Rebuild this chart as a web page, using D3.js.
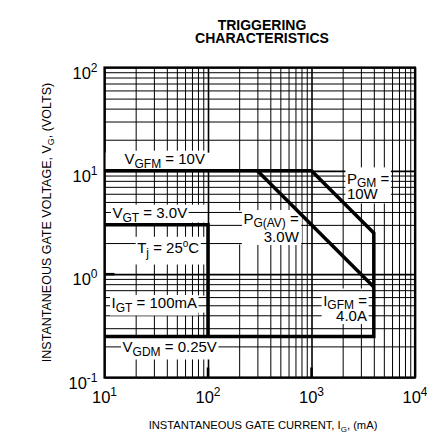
<!DOCTYPE html>
<html>
<head>
<meta charset="utf-8">
<script src="https://cdn.jsdelivr.net/npm/d3@7"></script>
<style>
  body { margin: 0; background: #fff; }
  svg { font-family: "Liberation Sans", Arial, sans-serif; }
</style>
</head>
<body>
<script>
const width = 427, height = 434;

// decades on each axis and their exponents
const xDecades = [10, 100, 1000, 10000];
const xExponents = ["1", "2", "3", "4"];
const yDecades = [0.1, 1, 10, 100];
const yExponents = ["-1", "0", "1", "2"];

// limit lines, [current mA, voltage V]
const outerLimit = [[10, 10], [1000, 10], [4000, 2.5], [4000, 0.25], [10, 0.25]];
const avgPowerLimit = [[300, 10], [4000, 0.75]];
const triggerLimit = [[10, 3], [100, 3], [100, 0.25]];

// label texts: segments are [text, "sub" | "sup" | undefined]
const labelLines = [
  [[["V"], ["GFM", "sub"], [" = 10V"]]],
  [[["V"], ["GT", "sub"], [" = 3.0V"]]],
  [[["T"], ["j", "sub"], [" = 25"], ["o", "sup"], ["C"]]],
  [[["I"], ["GT", "sub"], [" = 100mA"]]],
  [[["V"], ["GDM", "sub"], [" = 0.25V"]]],
  [[["P"], ["G(AV)", "sub"], [" ="]], [["3.0W"]]],
  [[["P"], ["GM", "sub"], [" ="]], [["10W"]]],
  [[["I"], ["GFM", "sub"], [" ="]], [["4.0A"]]]
];
// where each label sits (data units) and the area where the grid is cleared
const labelAt = [[15.6, 11.6], [11.95, 3.46], [41.2, 1.585], [11.7, 0.4655],
                 [14.95, 0.1746], [754, 3.09], [2198, 7.54], [3432, 0.497]];
const labelAnchor = ["start", "start", "middle", "start", "start", "end", "start", "end"];
const labelGap = [0, 0, 0, 0, 0, 18, 15, 15];
const labelClear = [
  [[10, 195], [10, 15]],
  [[11.2, 95], [3.16, 4.7]],
  [[19.5, 95], [1.24, 2.3]],
  [[11.2, 95], [0.425, 0.62]],
  [[10.5, 130], [0.153, 0.25]],
  [[190, 806], [1.94, 4.13]],
  [[2100, 6000], [4.83, 10.8]],
  [[1204, 3670], [0.333, 0.726]]
];

const x = d3.scaleLog().domain([10, 10000]).range([104.5, 415]);
const y = d3.scaleLog().domain([0.1, 100]).range([377.5, 67.5]);
const [x0, x1] = x.range(), [y0, y1] = y.range();

const isDecade = v => Math.abs(Math.log10(v) - Math.round(Math.log10(v))) < 1e-9;

const svg = d3.select("body").append("svg")
    .attr("width", width)
    .attr("height", height);

// vertical grid
const gridV = svg.append("g")
    .attr("transform", `translate(0,${y0})`)
    .call(d3.axisBottom(x).tickValues(x.ticks()).tickSize(y1 - y0).tickFormat(""));
gridV.select(".domain").remove();
gridV.selectAll(".tick line").attr("stroke-width", d => isDecade(d) ? 1.6 : 1);

const gMask = svg.append("g");

// horizontal grid
const gridH = svg.append("g")
    .attr("transform", `translate(${x0},0)`)
    .call(d3.axisLeft(y).tickValues(y.ticks()).tickSize(x0 - x1).tickFormat(""));
gridH.select(".domain").remove();
gridH.selectAll(".tick line").attr("stroke-width", d => isDecade(d) ? 1.6 : 1);

const gTextBg = svg.append("g");
const gLimits = svg.append("g");
const gText = svg.append("g").attr("font-size", 15).attr("fill", "#000");

// clear grid columns behind the labels
gMask.selectAll("rect")
  .data(labelClear)
  .join("rect")
    .attr("x", d => x(d[0][0]))
    .attr("y", d => y(d[1][1]))
    .attr("width", d => x(d[0][1]) - x(d[0][0]))
    .attr("height", d => y(d[1][0]) - y(d[1][1]))
    .attr("fill", "#fff");

// limit lines
const line = d3.line().x(d => x(d[0])).y(d => y(d[1]));
gLimits.selectAll("path")
  .data([outerLimit, avgPowerLimit, triggerLimit])
  .join("path")
    .attr("d", line)
    .attr("fill", "none")
    .attr("stroke", "#000")
    .attr("stroke-width", 3.5)
    .attr("stroke-linejoin", "miter");

function addSegments(t, segs, subSize, supSize, subDy, supDy) {
  let shift = 0;
  segs.forEach(s => {
    const target = s[1] === "sub" ? subDy : s[1] === "sup" ? supDy : 0;
    const ts = t.append("tspan").attr("dy", target - shift).text(s[0]);
    if (s[1] === "sub") ts.attr("font-size", subSize);
    if (s[1] === "sup") ts.attr("font-size", supSize);
    shift = target;
  });
}

// labels
labelLines.forEach((lines, i) => {
  const bb = [];
  lines.forEach((segs, li) => {
    const t = gText.append("text")
        .attr("x", x(labelAt[i][0]))
        .attr("y", y(labelAt[i][1]) + li * labelGap[i])
        .attr("text-anchor", labelAnchor[i]);
    addSegments(t, segs, 12, 10, 3.5, -6);
    bb.push(t.node().getBBox());
  });
  const l = d3.min(bb, b => b.x), r = d3.max(bb, b => b.x + b.width);
  const tp = d3.min(bb, b => b.y) + 2, bt = d3.max(bb, b => b.y + b.height) - 1;
  gTextBg.append("rect")
      .attr("x", l - 1.5).attr("y", tp - 1.5)
      .attr("width", r - l + 3).attr("height", bt - tp + 3)
      .attr("fill", "#fff");
});

// frame and decade ticks
svg.append("rect")
    .attr("x", x0).attr("y", y1)
    .attr("width", x1 - x0).attr("height", y0 - y1)
    .attr("fill", "none").attr("stroke", "#000").attr("stroke-width", 2.2);

svg.append("g").selectAll("line")
  .data(xDecades.slice(1, -1))
  .join("line")
    .attr("x1", d => x(d)).attr("x2", d => x(d))
    .attr("y1", y0).attr("y2", y0 - 10)
    .attr("stroke", "#000").attr("stroke-width", 2.5);

svg.append("g").selectAll("line")
  .data(yDecades.slice(1, 2))
  .join("line")
    .attr("x1", x0).attr("x2", x0 + 10)
    .attr("y1", d => y(d)).attr("y2", d => y(d))
    .attr("stroke", "#000").attr("stroke-width", 2.5);

// tick labels
svg.append("g").attr("font-size", 16.5).selectAll("text")
  .data(xDecades)
  .join("text")
    .attr("x", d => x(d))
    .attr("y", 403)
    .attr("text-anchor", "middle")
    .each(function(d, i) {
      const t = d3.select(this);
      t.append("tspan").text("10");
      t.append("tspan").attr("dy", -7).attr("font-size", 12).text(xExponents[i]);
    });

svg.append("g").attr("font-size", 16.5).selectAll("text")
  .data(yDecades)
  .join("text")
    .attr("x", x0 - 7)
    .attr("y", d => y(d) + 11)
    .attr("text-anchor", "end")
    .each(function(d, i) {
      const t = d3.select(this);
      t.append("tspan").text("10");
      t.append("tspan").attr("dy", -7).attr("font-size", 12).text(yExponents[i]);
    });

// axis titles
const xt = svg.append("text")
    .attr("x", 263)
    .attr("y", 429)
    .attr("text-anchor", "middle")
    .attr("font-size", 11.2);
addSegments(xt, [["INSTANTANEOUS GATE CURRENT, I"], ["G", "sub"], [", (mA)"]], 8, 8, 3, 0);

const yt = svg.append("text")
    .attr("transform", `translate(51,${(y0 + y1) / 2}) rotate(-90)`)
    .attr("text-anchor", "middle")
    .attr("font-size", 12.5);
addSegments(yt, [["INSTANTANEOUS GATE VOLTAGE, V"], ["G", "sub"], [", (VOLTS)"]], 9, 9, 3, 0);

// title
svg.append("g")
    .attr("font-size", 14)
    .attr("font-weight", "bold")
    .attr("text-anchor", "middle")
  .selectAll("text")
  .data(["TRIGGERING", "CHARACTERISTICS"])
  .join("text")
    .attr("x", 262)
    .attr("y", (d, i) => 30 + i * 13)
    .text(d => d);
</script>
</body>
</html>
